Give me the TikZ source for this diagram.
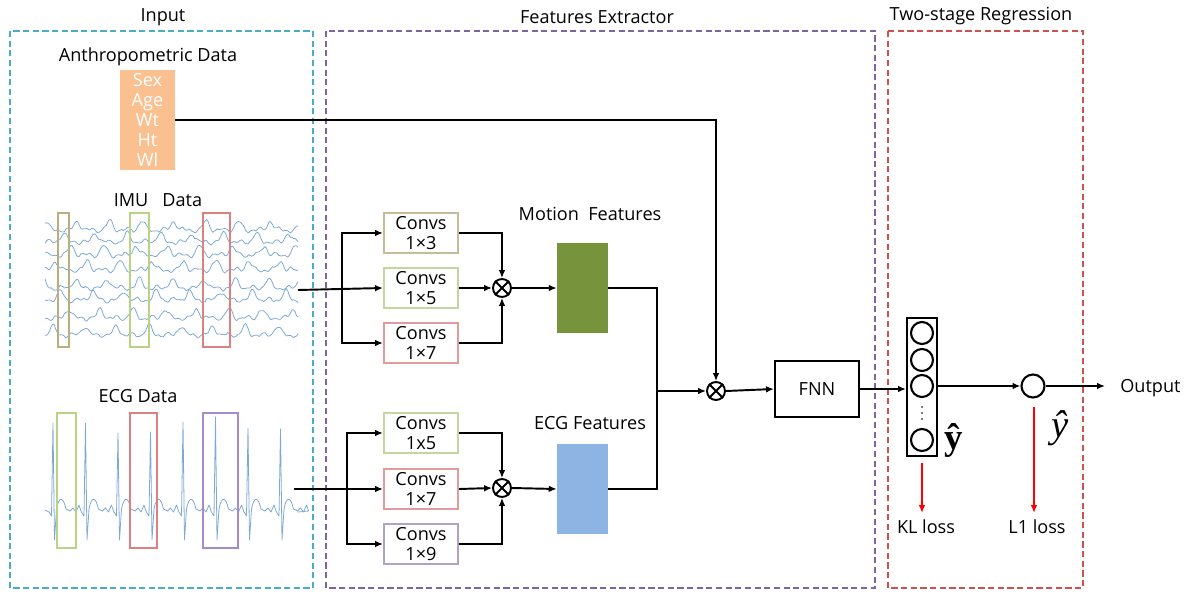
\documentclass[tikz,border=0pt]{standalone}
\usepackage{fontspec}
\setmainfont{Open Sans}
\newfontfamily\serifmain{Liberation Serif}
\usepackage{amsmath}
\usetikzlibrary{arrows.meta}
\definecolor{cyanbox}{HTML}{4BACC6}
\definecolor{purplebox}{HTML}{8064A2}
\definecolor{redbox}{HTML}{D0504D}
\definecolor{olivec}{HTML}{C4BD97}
\definecolor{greenc}{HTML}{C3D69B}
\definecolor{redc}{HTML}{E39A9A}
\definecolor{purplec}{HTML}{B3A2C7}
\definecolor{oliveo}{HTML}{B9AE7E}
\definecolor{greeno}{HTML}{B8D483}
\definecolor{redo}{HTML}{DE8080}
\definecolor{purpleo}{HTML}{A58BC9}
\definecolor{orangef}{HTML}{FAC090}
\definecolor{motiong}{HTML}{77933C}
\definecolor{ecgb}{HTML}{8DB4E2}
\definecolor{sig}{HTML}{7EA9D6}
\begin{document}
\begin{tikzpicture}[x=0.02cm,y=-0.02cm,
  txt/.style={font=\fontsize{10.3}{12}\selectfont, inner sep=0pt},
  region/.style={dash pattern=on 3.5pt off 2pt, line width=0.9pt},
  conv/.style={draw, line width=1.2pt, minimum width=1.48cm, minimum height=0.8cm, inner sep=0pt, align=center, fill=white, font=\fontsize{10.3}{11}\selectfont},
  line/.style={line width=1.1pt},
  arr/.style={line width=1.1pt, -{Latex[length=4.5pt,width=3.8pt]}},
  redarr/.style={line width=1.1pt, red, -{Latex[length=4.5pt,width=3.8pt]}},
  otimes/.style={circle, draw, line width=1.1pt, minimum size=0.36cm, inner sep=0pt},
  neuron/.style={circle, draw, line width=1.2pt, minimum size=0.44cm, inner sep=0pt},
  signal/.style={sig, line width=0.45pt, line join=round},
  overlay/.style={line width=1.3pt}
]
\useasboundingbox (0,0) rectangle (1189,595);

% region titles and boxes
\node[txt] (tin) at (163,17) {Input};
\node[txt] (tfe) at (597,17) {Features Extractor};
\node[txt] (ttr) at (981,16) {Two-stage Regression};
\draw[region, cyanbox] (10,31) rectangle (313,588);
\draw[region, purplebox] (326,31) rectangle (875,588);
\draw[region, redbox] (888,31) rectangle (1083,588);

% anthropometric data
\node[txt] (tanthro) at (148,57) {Anthropometric Data};
\node[fill=orangef, minimum width=1.1cm, minimum height=2cm, inner sep=0pt, align=center, text=white, font=\fontsize{10.3}{11.3}\selectfont] (anthro) at (147.5,120) {Sex\\Age\\Wt\\Ht\\Wl};

% IMU data
\node[txt] (timu) at (158,200) {IMU\ \ \ Data};
\pgfmathsetseed{11}
\foreach \y/\ph/\pp in {230/3/10, 242/17/40, 255/9/75, 270/25/120, 288/5/160, 300/20/200, 318/12/250, 335/28/300}{
  \draw[signal] plot[domain=45:298, samples=170] (\x,{\y - 9*(sin((\x+\ph)*5.6))^12 + 1.6*sin(\x*19+\pp) + 1.2*sin(\x*41+2*\pp) + 0.6*rand});
}
\draw[overlay, oliveo] (58,213) rectangle (69,347);
\draw[overlay, greeno] (130,213) rectangle (149,347);
\draw[overlay, redo] (203,213) rectangle (230,347);
\coordinate (imuout) at (298,290);

% ECG data
\node[txt] (tecg) at (138,396) {ECG Data};
\draw[signal] (45,510)
  \foreach \i/\h in {0/423,1/423,2/433,3/432,4/422,5/417,6/428,7/429}{
    -- ({53+32.5*\i-4},512) -- ({53+32.5*\i-1.5},516) -- ({53+32.5*\i},\h)
    -- ({53+32.5*\i+1.5},540) -- ({53+32.5*\i+3.5},509)
    .. controls ({53+32.5*\i+6},496) and ({53+32.5*\i+10},496) .. ({53+32.5*\i+13},509)
    -- ({53+32.5*\i+17},511) -- ({53+32.5*\i+20},508) -- ({53+32.5*\i+23},512)
    -- ({53+32.5*\i+26},505) -- ({53+32.5*\i+28},511)
  } -- (298,512);
\draw[overlay, greeno] (57,413) rectangle (76,548);
\draw[overlay, redo] (130,413) rectangle (157,548);
\draw[overlay, purpleo] (203,413) rectangle (238,548);
\coordinate (ecgout) at (294,489);

% motion branch
\node[conv, draw=olivec] (c1) at (421,233) {Convs\\1×3};
\node[conv, draw=greenc] (c2) at (421,288) {Convs\\1×5};
\node[conv, draw=redc] (c3) at (421,343) {Convs\\1×7};
\coordinate (j1) at (342,290);
\draw[arr] (imuout) -- (c2.west);
\draw[arr] (j1) |- (c1.west);
\draw[arr] (j1) |- (c3.west);
\node[otimes] (m1) at (502,288) {};
\draw[line] (m1.45) -- (m1.225) (m1.135) -- (m1.315);
\draw[arr] (c1.east) -| (m1.north);
\draw[arr] (c2.east) -- (m1.west);
\draw[arr] (c3.east) -| (m1.south);
\node[txt] (tmf) at (590,214) {Motion\ \ Features};
\node[fill=motiong, minimum width=1.02cm, minimum height=1.8cm, inner sep=0pt] (mf) at (582.5,288) {};
\draw[arr] (m1.east) -- (mf.west);

% ECG branch
\node[conv, draw=greenc] (c4) at (421,433) {Convs\\1x5};
\node[conv, draw=redc] (c5) at (421,489) {Convs\\1×7};
\node[conv, draw=purplec] (c6) at (421,544) {Convs\\1×9};
\coordinate (j2) at (347,489);
\draw[arr] (ecgout) -- (c5.west);
\draw[arr] (j2) |- (c4.west);
\draw[arr] (j2) |- (c6.west);
\node[otimes] (m2) at (502,488) {};
\draw[line] (m2.45) -- (m2.225) (m2.135) -- (m2.315);
\draw[arr] (c4.east) -| (m2.north);
\draw[arr] (c5.east) -- (m2.west);
\draw[arr] (c6.east) -| (m2.south);
\node[txt] (tef) at (590,423) {ECG Features};
\node[fill=ecgb, minimum width=1.02cm, minimum height=1.8cm, inner sep=0pt] (ef) at (582.5,489) {};
\draw[arr] (m2.east) -- (ef.west);

% merge
\node[otimes] (m3) at (716,391) {};
\draw[line] (m3.45) -- (m3.225) (m3.135) -- (m3.315);
\coordinate (jm) at (657,391);
\draw[line] (mf.east) -| (jm);
\draw[line] (ef.east) -| (jm);
\draw[arr] (jm) -- (m3.west);
\draw[arr] (anthro.east) -| (m3.north);
\node[draw, line width=1.2pt, minimum width=1.68cm, minimum height=1.12cm, inner sep=0pt, font=\fontsize{10.3}{12}\selectfont] (fnn) at (817,389) {FNN};
\draw[arr] (m3.east) -- (fnn.west);

% regression
\node[draw, line width=1.2pt, minimum width=0.6cm, minimum height=2.76cm, inner sep=0pt] (layer) at (922,387) {};
\node[neuron] (l1) at (922,333) {};
\node[neuron] (l2) at (922,360) {};
\node[neuron] (l3) at (922,386) {};
\foreach \yy in {407,413,419} \fill (922,\yy) circle (0.5pt);
\node[neuron] (l5) at (922,440) {};
\draw[arr] (fnn.east) -- (fnn.east -| layer.west);
\node[font=\fontsize{21}{21}\selectfont\serifmain\bfseries, inner sep=0pt] (yb) at (954,440) {ŷ};
\node[neuron, minimum size=0.46cm] (o) at (1033,386) {};
\draw[arr] (l3.east -| layer.east) -- (o.west);
\coordinate (outp) at (1105,386);
\draw[arr] (o.east) -- (outp);
\node[txt, anchor=west] (out) at (1120,388) {Output};
\node[font=\fontsize{22}{22}\selectfont\serifmain\itshape, inner sep=0pt] (yh) at (1060,428) {ŷ};
\coordinate (kls) at (922,463);
\coordinate (l1s) at (1034,407);
\node[txt] (kl) at (926,527) {KL loss};
\node[txt] (l1l) at (1037,527) {L1 loss};
\draw[redarr] (kls) -- (922,513);
\draw[redarr] (l1s) -- (1034,513);
\end{tikzpicture}
\end{document}
